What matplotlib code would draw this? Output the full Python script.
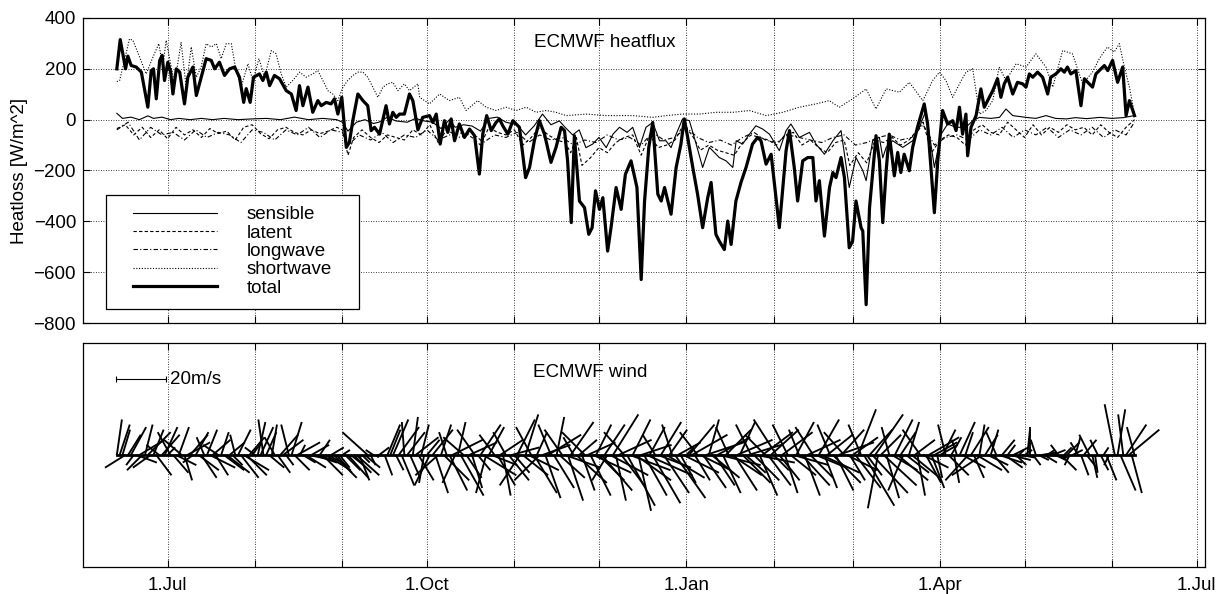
import numpy as np
import matplotlib.pyplot as plt
from matplotlib.collections import LineCollection
from matplotlib.patches import Rectangle

plt.rcParams['font.family'] = ['Liberation Sans', 'DejaVu Sans']
plt.rcParams['font.size'] = 13.5

# time axis: days relative to 1 July
month_ticks = [0, 31, 62, 92, 123, 153, 184, 215, 243, 274, 304, 335, 365]
label_ticks = {0: '1.Jul', 92: '1.Oct', 184: '1.Jan', 274: '1.Apr', 365: '1.Jul'}

# heat flux components [W/m^2], (day, value)
total_pts = [
    (-18.0, 200), (-16.8, 315), (-14.9, 200), (-14.1, 250), (-12.9, 213), (-11.1, 207), (-9.3, 187),
    (-7.0, 49), (-5.8, 193), (-5.0, 200), (-4.0, 82), (-2.8, 233), (-1.9, 253), (-1.1, 154), (0.1, 226),
    (1.1, 187), (1.9, 101), (3.1, 200), (4.3, 187), (6.0, 62), (7.2, 168), (9.0, 207), (10.2, 95),
    (11.3, 141), (13.7, 240), (15.5, 233), (16.7, 200), (18.4, 226), (20.2, 174), (22.0, 200), (23.8, 207),
    (25.5, 167), (27.0, 68), (27.9, 122), (29.3, 68), (30.5, 167), (32.6, 180), (33.8, 154), (35.0, 187),
    (36.2, 134), (37.9, 174), (39.7, 161), (42.1, 114), (43.9, 101), (45.6, 36), (46.8, 134), (48.0, 55),
    (49.8, 128), (51.5, 29), (53.3, 75), (54.5, 55), (56.3, 68), (58.0, 62), (59.2, 82), (60.4, 22),
    (61.8, 88), (63.4, -109), (64.5, -89), (65.7, -4), (67.5, 101), (69.3, 75), (71.0, 55), (72.2, -43),
    (73.4, -30), (75.2, -57), (77.5, 55), (78.7, -17), (79.9, 29), (81.1, 9), (82.3, 22), (84.0, 22),
    (85.8, 101), (87.0, 75), (88.8, -40), (90.5, 9), (92.9, 16), (94.1, -11), (95.3, 22), (96.7, -96),
    (98.2, -4), (99.4, -50), (100.6, 3), (101.8, -83), (103.5, -17), (105.3, -70), (107.1, -37),
    (108.9, -63), (110.6, -214), (111.8, -57), (113.2, 16), (114.8, -43), (116.5, -11), (117.7, 3),
    (118.9, -24), (120.7, -57), (122.5, -4), (124.8, -30), (127.0, -228), (128.4, -188), (130.1, -83),
    (131.9, -4), (133.7, -57), (136.0, -168), (137.8, -109), (139.6, -30), (140.8, -43), (141.9, -162),
    (143.2, -405), (144.3, -63), (146.1, -320), (147.9, -346), (149.4, -451), (150.6, -425), (151.8, -280),
    (153.2, -353), (154.4, -307), (156.1, -517), (157.3, -425), (159.1, -267), (160.9, -353), (162.4, -215),
    (164.4, -162), (166.5, -267), (168.0, -629), (169.2, -320), (170.7, -109), (172.1, -11), (173.9, -293),
    (175.1, -320), (176.3, -267), (178.6, -372), (180.4, -188), (182.1, -96), (183.3, 3), (184.5, -70),
    (186.3, -188), (188.0, -293), (189.8, -425), (191.6, -307), (192.8, -247), (194.5, -451), (195.7, -478),
    (197.5, -511), (198.7, -399), (199.9, -491), (201.6, -320), (203.4, -247), (205.2, -188), (207.5, -96),
    (209.3, -70), (210.5, -83), (212.3, -175), (214.1, -136), (217.0, -425), (219.4, -122), (220.6, -43),
    (222.3, -188), (223.5, -320), (225.3, -162), (227.1, -149), (228.9, -149), (230.0, -320), (231.2, -240),
    (233.0, -458), (234.8, -267), (236.0, -208), (237.1, -228), (238.9, -149), (240.1, -228), (241.8, -504),
    (243.0, -478), (244.2, -320), (246.0, -425), (246.6, -438), (247.8, -728), (249.0, -346), (251.3, -63),
    (252.5, -161), (253.7, -405), (254.9, -201), (256.0, -57), (257.8, -221), (259.0, -129), (260.1, -208),
    (261.3, -136), (263.1, -201), (264.3, -109), (266.0, -30), (268.4, 62), (269.6, -17), (272.0, -366),
    (273.2, -162), (274.9, 36), (276.7, -17), (278.5, -4), (279.7, -43), (280.9, 49), (282.0, -57),
    (283.2, 22), (283.8, -142), (285.0, -30), (286.8, 16), (288.5, 121), (289.7, 49), (291.5, 88),
    (292.7, 114), (294.4, 161), (295.6, 88), (296.8, 141), (298.0, 167), (299.8, 101), (301.5, 147),
    (303.3, 141), (304.5, 128), (305.7, 180), (306.9, 167), (308.6, 187), (310.4, 167), (312.2, 101),
    (313.3, 167), (315.1, 180), (316.9, 200), (318.1, 187), (319.2, 207), (320.4, 180), (322.2, 193),
    (324.0, 55), (325.2, 161), (326.4, 147), (328.1, 128), (329.3, 180), (331.1, 200), (332.3, 213),
    (333.5, 193), (335.2, 233), (337.0, 147), (338.8, 207), (340.0, 16), (341.2, 75), (343.0, 16),
]

shortwave_pts = [
    (-18.0, 150), (-17.0, 154), (-13.5, 318), (-12.3, 312), (-9.9, 246), (-7.6, 180), (-5.2, 246),
    (-3.1, 299), (-1.7, 207), (-0.5, 312), (1.3, 207), (2.5, 141), (4.8, 305), (6.6, 128), (8.4, 286),
    (10.2, 167), (11.9, 207), (13.7, 299), (15.5, 286), (17.3, 299), (19.0, 240), (20.8, 299), (22.6, 299),
    (24.3, 193), (26.1, 128), (28.5, 220), (30.3, 154), (32.4, 240), (34.4, 167), (36.8, 272), (38.5, 259),
    (40.3, 180), (42.1, 128), (44.4, 154), (46.8, 187), (49.2, 167), (51.5, 180), (53.3, 193), (55.1, 154),
    (56.9, 114), (58.6, 101), (60.4, 75), (62.2, 128), (63.9, 154), (65.7, 174), (67.5, 187), (69.3, 187),
    (71.0, 167), (72.8, 128), (74.6, 88), (76.4, 128), (78.1, 141), (79.9, 147), (81.7, 114), (84.0, 141),
    (85.8, 114), (88.8, 141), (89.4, 88), (92.9, 62), (96.5, 101), (100.0, 75), (103.5, 88), (105.9, 36),
    (110.0, 75), (113.0, 49), (116.5, 36), (120.1, 49), (123.6, 36), (127.2, 49), (130.7, 29), (134.3, 36),
    (137.8, 29), (141.4, 16), (148.5, 22), (155.6, 16), (165.0, 16), (172.1, 9), (176.8, 16), (182.7, 22),
    (188.7, 22), (194.6, 29), (200.5, 29), (206.4, 36), (212.3, 16), (218.2, 29), (224.1, 49), (230.0, 62),
    (234.7, 75), (238.3, 49), (243.0, 82), (247.8, 121), (251.3, 42), (254.9, 121), (259.6, 108),
    (263.1, 147), (267.9, 75), (271.4, 154), (273.8, 187), (276.1, 154), (278.5, 88), (280.9, 141),
    (283.2, 187), (285.6, 200), (288.0, 22), (290.3, 36), (292.7, 75), (295.0, 207), (297.4, 154),
    (301.0, 220), (304.5, 207), (308.0, 259), (311.6, 207), (314.0, 128), (317.5, 272), (321.0, 259),
    (324.6, 141), (328.1, 187), (330.5, 240), (333.4, 286), (335.8, 266), (337.6, 299), (339.4, 207),
    (341.2, 128), (343.0, 22),
]

sensible_pts = [
    (-18, 25), (-16, 5), (-13, 10), (-10, 0), (-7, 15), (-5, 5), (-2, 10), (1, 0), (4, 5), (8, 0),
    (12, 5), (16, 0), (20, 5), (25, 0), (30, 3), (35, 5), (40, 0), (45, 10), (50, 0), (55, 5), (60, 0),
    (62, -10), (64, -45), (67, -10), (70, 0), (73, -15), (75, -10), (78, 10), (81, -5), (85, -10),
    (88, 5), (91, -5), (94, -10), (97, -35), (100, 0), (102, -30), (105, -20), (108, -25), (111, -45),
    (114, 5), (117, 10), (120, -10), (124, -20), (127, -60), (130, -25), (133, 22), (136, -20),
    (139, -5), (141, -30), (143.7, -60), (146, -40), (148.4, -110), (150.8, -96), (153, -70),
    (155.6, -110), (158, -57), (160.3, -30), (163, -50), (165, -30), (167.4, -109), (169.7, -30),
    (172.1, -11), (174.5, -83), (176.8, -83), (178.6, -110), (180.4, -57), (182.7, 3), (185.1, -4),
    (187.5, -96), (189.8, -188), (192.2, -109), (195.7, -149), (198.1, -162), (200.5, -188),
    (201.7, -83), (204, -96), (206.4, -57), (208.7, -24), (211.1, -37), (213.5, -57), (217, -122),
    (219.4, -43), (221.1, -17), (224.1, -70), (227.7, -50), (230, -96), (233, -136), (236, -83),
    (238.9, -43), (241.8, -267), (244.2, -149), (246.6, -200), (247.8, -240), (250.1, -83),
    (252.5, -70), (253.7, -150), (254.9, -109), (257.2, -83), (260.8, -109), (264.3, -83), (266.7, -30),
    (269, 36), (272, -188), (274.4, -57), (276.7, -17), (279.7, -30), (283.2, -30), (285.6, -4),
    (288, 9), (292, 5), (295.1, 9), (297.4, 42), (299.8, 16), (304.5, 9), (308, 5), (311.6, 16),
    (315, 5), (318.9, 3), (322, 8), (326, 4), (330.7, 9), (335, 5), (339, 8), (343, 16),
]

latent_pts = [
    (-18, -35), (-15, -20), (-12, -60), (-9, -30), (-6, -70), (-3, -40), (0, -75), (3, -30), (6, -60),
    (9, -40), (12, -70), (15, -35), (18, -55), (21, -45), (24, -80), (27, -30), (30, -20), (33, -55),
    (36, -75), (39, -40), (42, -30), (45, -50), (48, -60), (51, -40), (54, -55), (57, -45), (60, -30),
    (62, -40), (64, -140), (66, -70), (69, -40), (72, -70), (75, -90), (78, -60), (81, -70), (84, -80),
    (87, -40), (90, -60), (93, -20), (96, -90), (99, -40), (102, -60), (105, -50), (108, -70),
    (111, -100), (114, -30), (117, -50), (120, -60), (123, -40), (126, -100), (129, -70), (132, -30),
    (135, -60), (138, -80), (141, -90), (143, -130), (145, -70), (147, -180), (150, -150), (153, -110),
    (156, -130), (159, -90), (162, -70), (165, -60), (168, -140), (171, -60), (174, -110), (177, -100),
    (180, -80), (183, -20), (186, -60), (189, -120), (192, -100), (195, -120), (198, -130), (201, -140),
    (204, -90), (207, -60), (210, -70), (213, -80), (216, -100), (219, -60), (222, -50), (225, -100),
    (228, -80), (231, -110), (234, -130), (237, -90), (240, -80), (242, -180), (245, -130), (248, -170),
    (251, -80), (254, -90), (257, -70), (260, -100), (263, -80), (266, -40), (268, -10), (271, -130),
    (274, -80), (277, -60), (280, -70), (283, -100), (286, -40), (289, -20), (292, -50), (295, -60),
    (298, -10), (301, -40), (304, -70), (307, -20), (310, -60), (313, -30), (316, -50), (319, -20),
    (322, -40), (325, -30), (328, -60), (331, -20), (334, -50), (337, -70), (340, -30), (343, 0),
]

longwave_pts = [
    (-18, -40), (-14, -10), (-10, -80), (-6, -30), (-2, -60), (2, -50), (6, -80), (10, -40), (14, -70),
    (18, -50), (22, -60), (26, -90), (30, -40), (34, -50), (38, -80), (42, -40), (46, -60), (50, -30),
    (54, -70), (58, -40), (62, -50), (64, -100), (68, -60), (72, -80), (76, -50), (80, -90), (84, -60),
    (88, -70), (92, -40), (96, -80), (100, -60), (104, -70), (108, -50), (112, -90), (116, -60),
    (120, -70), (124, -50), (128, -90), (132, -60), (136, -80), (140, -70), (144, -100), (148, -80),
    (152, -90), (156, -60), (160, -80), (164, -70), (168, -100), (172, -50), (176, -80), (180, -70),
    (184, -30), (188, -70), (192, -90), (196, -80), (200, -100), (204, -70), (208, -50), (212, -80),
    (216, -90), (220, -60), (224, -70), (228, -80), (232, -90), (236, -70), (240, -60), (244, -100),
    (248, -90), (252, -70), (256, -60), (260, -80), (264, -70), (268, -20), (272, -100), (276, -70),
    (280, -60), (284, -80), (288, -40), (292, -60), (296, -30), (300, -70), (304, -40), (308, -60),
    (312, -30), (316, -70), (320, -40), (324, -60), (328, -30), (332, -70), (336, -40), (340, -60),
    (343, -10),
]

# daily ECMWF wind [m/s], starting 13 June (day -18)
wind_start = -18
wind_u = [
    2, 4, 3, -8, 5, 6, -3, 8, 10, -6, 3, 9, -7, 4, 6, -5, 7, 5, 3,                           # Jun
    -5, 6, 8, 4, -7, 3, 9, 7, -4, 5, 8, 6, -3, 4, 10, 7, 5, -6, 3, 8,
    9, 6, 4, -2, 5, 7, 10, 8, 6, 3, -4,                                                       # Jul
    3, 5, -2, 4, 6, 2, -4, 5, 7, 8, 3, -3, 4, 6, 9, 2, 5, 8, 10, 7,
    9, 6, 4, 8, 10, 7, 5, 9, 6, 4, 3,                                                         # Aug
    6, 8, 5, 7, 9, 4, 3, 6, -10, 2, -3, 1, 4, -2, 3, 5, 4, 6, 3, 8,
    5, -1, 7, 4, 2, 9, 6, 3, -2, 5,                                                           # Sep
    -6, 8, 5, -9, 4, 10, -3, 7, 12, -5, 3, 9, -8, 6, 11, 4, -7, 5, 8, 13,
    -4, 6, 10, -6, 7, 9, 3, -5, 8, 11, 6,                                                     # Oct
    7, -8, 10, 5, 12, -6, 9, 4, -10, 11, 6, 13, -5, 8, 3, 10, -7, 14, 6, 9,
    -4, 12, 7, 5, -9, 11, 8, 15, 6, 10,                                                       # Nov
    12, 8, -6, 15, 10, 4, 13, 9, -8, 11, 16, 7, 14, 5, 12, 9, 18, 6, 11, -5,
    13, 8, 10, 15, 7, -4, 12, 9, 6, 14, 3,                                                    # Dec
    10, 14, 6, -7, 12, 9, 15, 4, 11, 8, 13, 16, 7, 10, -5, 12, 9, 14, 6, 11,
    8, 13, -6, 10, 15, 7, 12, -8, 9, 11, 6,                                                   # Jan
    -9, 8, 12, 5, -6, 10, 14, 7, -4, 11, 6, 13, 9, -7, 12, 8, 15, 5, 10, -5,
    11, 7, 14, 9, -8, 12, 6, 10,                                                              # Feb
    10, 7, -5, 12, 6, 9, 14, 11, -4, 8, 13, 5, -3, 10, 7, 12, 6, -6, 9, 4,
    11, 8, 3, -7, 10, 6, 12, 5, 9, 2, 7,                                                      # Mar
    5, -3, 8, 4, 2, -2, 6, 9, 3, -9, 7, 4, 10, 2, -12, 5, 8, 3, 6, -4,
    9, 5, 7, 3, 8, 6, 4, 2, 5, 3,                                                             # Apr
    1, 0, 3, -2, 4, 6, 5, 3, 7, 5, 4, -3, 6, 3, 5, -2, 4, 2, -3, 3,
    5, 4, -4, 2, 1, -3, 3, 2, 4, -2, 1,                                                       # May
    -4, 3, 6, -2, 8, 12, 4, -3,                                                               # Jun
]
wind_v = [
    14, 12, 10, -5, 8, 11, -4, -3, 6, -6, 12, 9, -5, 10, -8, 4, 8, 11, 3,
    9, -7, -4, 11, 6, -10, 5, 8, -3, 9, -6, -9, 7, 10, -5, 6, -8, 4, 9, -6,
    -7, 5, -4, 8, 10, -9, -6, -8, 7, 4, 3,
    13, 11, 14, 9, -5, 12, 7, -7, 8, 6, -4, 12, 13, -6, 5, 4, -3, -5, -2, 4,
    -3, -2, 6, -8, -6, -4, 3, -9, -7, -5, 2,
    -6, -9, -4, -7, -8, -10, -3, -5, 9, -4, 2, -1, 3, 0, -8, 12, 10, 14, -6, 11,
    -12, 13, 9, -9, 15, 7, -10, 12, -11, 6,
    -12, 10, -15, -8, 12, -10, 9, -14, 6, -11, 13, -16, 7, -9, 5, -13, 10, -6, 12, -8,
    -15, 11, -4, 8, -12, 6, -16, 9, -10, 3, -7,
    14, -12, -8, 16, -6, 11, -15, 9, -10, 4, -17, 8, 12, -13, 15, -9, 10, -5, -18, 13,
    7, -11, 6, -14, 9, 5, -16, -7, 12, -10,
    -14, 12, -10, -8, 16, -18, 6, -12, 9, -20, -6, 14, -10, -22, 4, -16, -8, 11, -19, 8,
    -5, 13, -15, -9, 10, 12, -17, 5, -11, -7, 3,
    12, 8, -10, 9, -6, -13, 5, 14, -9, -12, 7, -4, -15, 10, 11, -8, -14, 6, 13, -11,
    -7, 4, 12, -10, -3, -16, 9, 8, -12, 10, -6,
    14, -10, 9, -15, 12, -8, -4, 13, 10, -12, -16, 6, -9, 11, -5, 14, -7, -13, 8, 12,
    -11, -14, 5, 10, 9, -6, -10, 7,
    -13, 18, 12, -20, -8, 10, -15, 16, -21, 8, -12, -17, 11, -6, 14, -10, 9, -14, -7, 13,
    -9, 6, -16, 10, -5, -11, 7, -13, 5, -9, 4,
    10, 12, -8, 7, -11, 6, 13, -5, 9, -10, 11, -9, -6, 12, -8, 8, -4, 10, -7, 9,
    -3, 6, -5, 4, -2, 3, -4, 2, -1, 2,
    10, 11, -4, 6, -2, 1, -3, 2, -1, 2, -2, 4, -6, 3, 5, -4, 2, 7, 5, -8,
    6, -5, 8, -9, -7, 6, -6, 3, -10, -4, 0,
    20, 18, -14, 16, 12, 10, -15, 11,
]
assert len(wind_u) == len(wind_v)

# figure geometry in pixels (1225 x 594)
W, H = 1225, 594
fig = plt.figure(figsize=(W / 100, H / 100), dpi=100)
ax1 = fig.add_axes([83 / W, 1 - 323 / H, 1122 / W, 305 / H])
ax2 = fig.add_axes([83 / W, 1 - 567 / H, 1122 / W, 224 / H])
xlim = (-30, 368)

grid_kw = dict(color='k', linestyle=(0, (1, 2)), linewidth=0.6)


def xy(pts):
    a = np.array(pts, dtype=float)
    return a[:, 0], a[:, 1]


series = [
    ('sensible', sensible_pts, dict(ls='-', lw=0.8)),
    ('latent', latent_pts, dict(ls=(0, (3, 2)), lw=0.8)),
    ('longwave', longwave_pts, dict(ls=(0, (4, 2, 1, 2)), lw=0.8)),
    ('shortwave', shortwave_pts, dict(ls=(0, (1, 1.5)), lw=0.8)),
    ('total', total_pts, dict(ls='-', lw=2.3)),
]
for name, pts, kw in series:
    x, y = xy(pts)
    ax1.plot(x, y, color='k', label=name, **kw)

ax1.set_xlim(xlim)
ax1.set_ylim(-800, 400)
ax1.set_yticks(range(-800, 401, 200))
ax1.set_xticks(month_ticks)
ax1.set_xticklabels([])
ax1.grid(True, **grid_kw)
ax1.set_ylabel('Heatloss [W/m^2]', labelpad=4)
ax1.text(0.465, 0.92, 'ECMWF heatflux', transform=ax1.transAxes, ha='center', va='center')

# MATLAB-style legend box, wider than its contents
box = Rectangle((23 / 1122, 14 / 305), 253 / 1122, 114 / 305, transform=ax1.transAxes,
                facecolor='white', edgecolor='k', linewidth=0.9, zorder=4)
ax1.add_patch(box)
leg = ax1.legend(loc='upper left', bbox_to_anchor=(50 / 1122, 117 / 305), borderaxespad=0,
                 frameon=False, handlelength=4.5, handletextpad=1.55, labelspacing=0.07,
                 borderpad=0)
leg.set_zorder(5)

# wind sticks: 20 m/s spans 18 days horizontally, same pixel scale vertically
k = 18.0 / 20.0
px_per_day = 1122 / (xlim[1] - xlim[0])
half = 112 / (px_per_day * k)
days = wind_start + np.arange(len(wind_u))
u = np.array(wind_u, dtype=float)
v = np.array(wind_v, dtype=float)
segs = [[(t, 0), (t + k * a, b)] for t, a, b in zip(days, u, v)]
ax2.add_collection(LineCollection(segs, colors='k', linewidths=1.35))
ax2.plot([days[0], days[-1]], [0, 0], color='k', lw=2.0)

# scale arrow
sx0, sy = -18.4, 29.8
ax2.plot([sx0, sx0 + 20 * k], [sy, sy], color='k', lw=0.8)
ax2.plot([sx0, sx0 + 20 * k], [sy, sy], ls='none', marker='|', ms=5, mew=0.8, color='k')
ax2.text(sx0 + 20 * k + 1.2, sy, '20m/s', va='center', ha='left')
ax2.text(0.452, 0.87, 'ECMWF wind', transform=ax2.transAxes, ha='center', va='center')

ax2.set_xlim(xlim)
ax2.set_ylim(-half, half)
ax2.set_yticks([])
ax2.set_xticks(month_ticks)
ax2.set_xticklabels([label_ticks.get(t, '') for t in month_ticks])
ax2.grid(True, axis='x', **grid_kw)

for ax in (ax1, ax2):
    ax.tick_params(direction='in', top=True, right=True, length=5, width=0.8, pad=5)
    for s in ax.spines.values():
        s.set_linewidth(0.9)
ax2.tick_params(axis='x', pad=7)

fig.savefig('out.png', dpi=100)
